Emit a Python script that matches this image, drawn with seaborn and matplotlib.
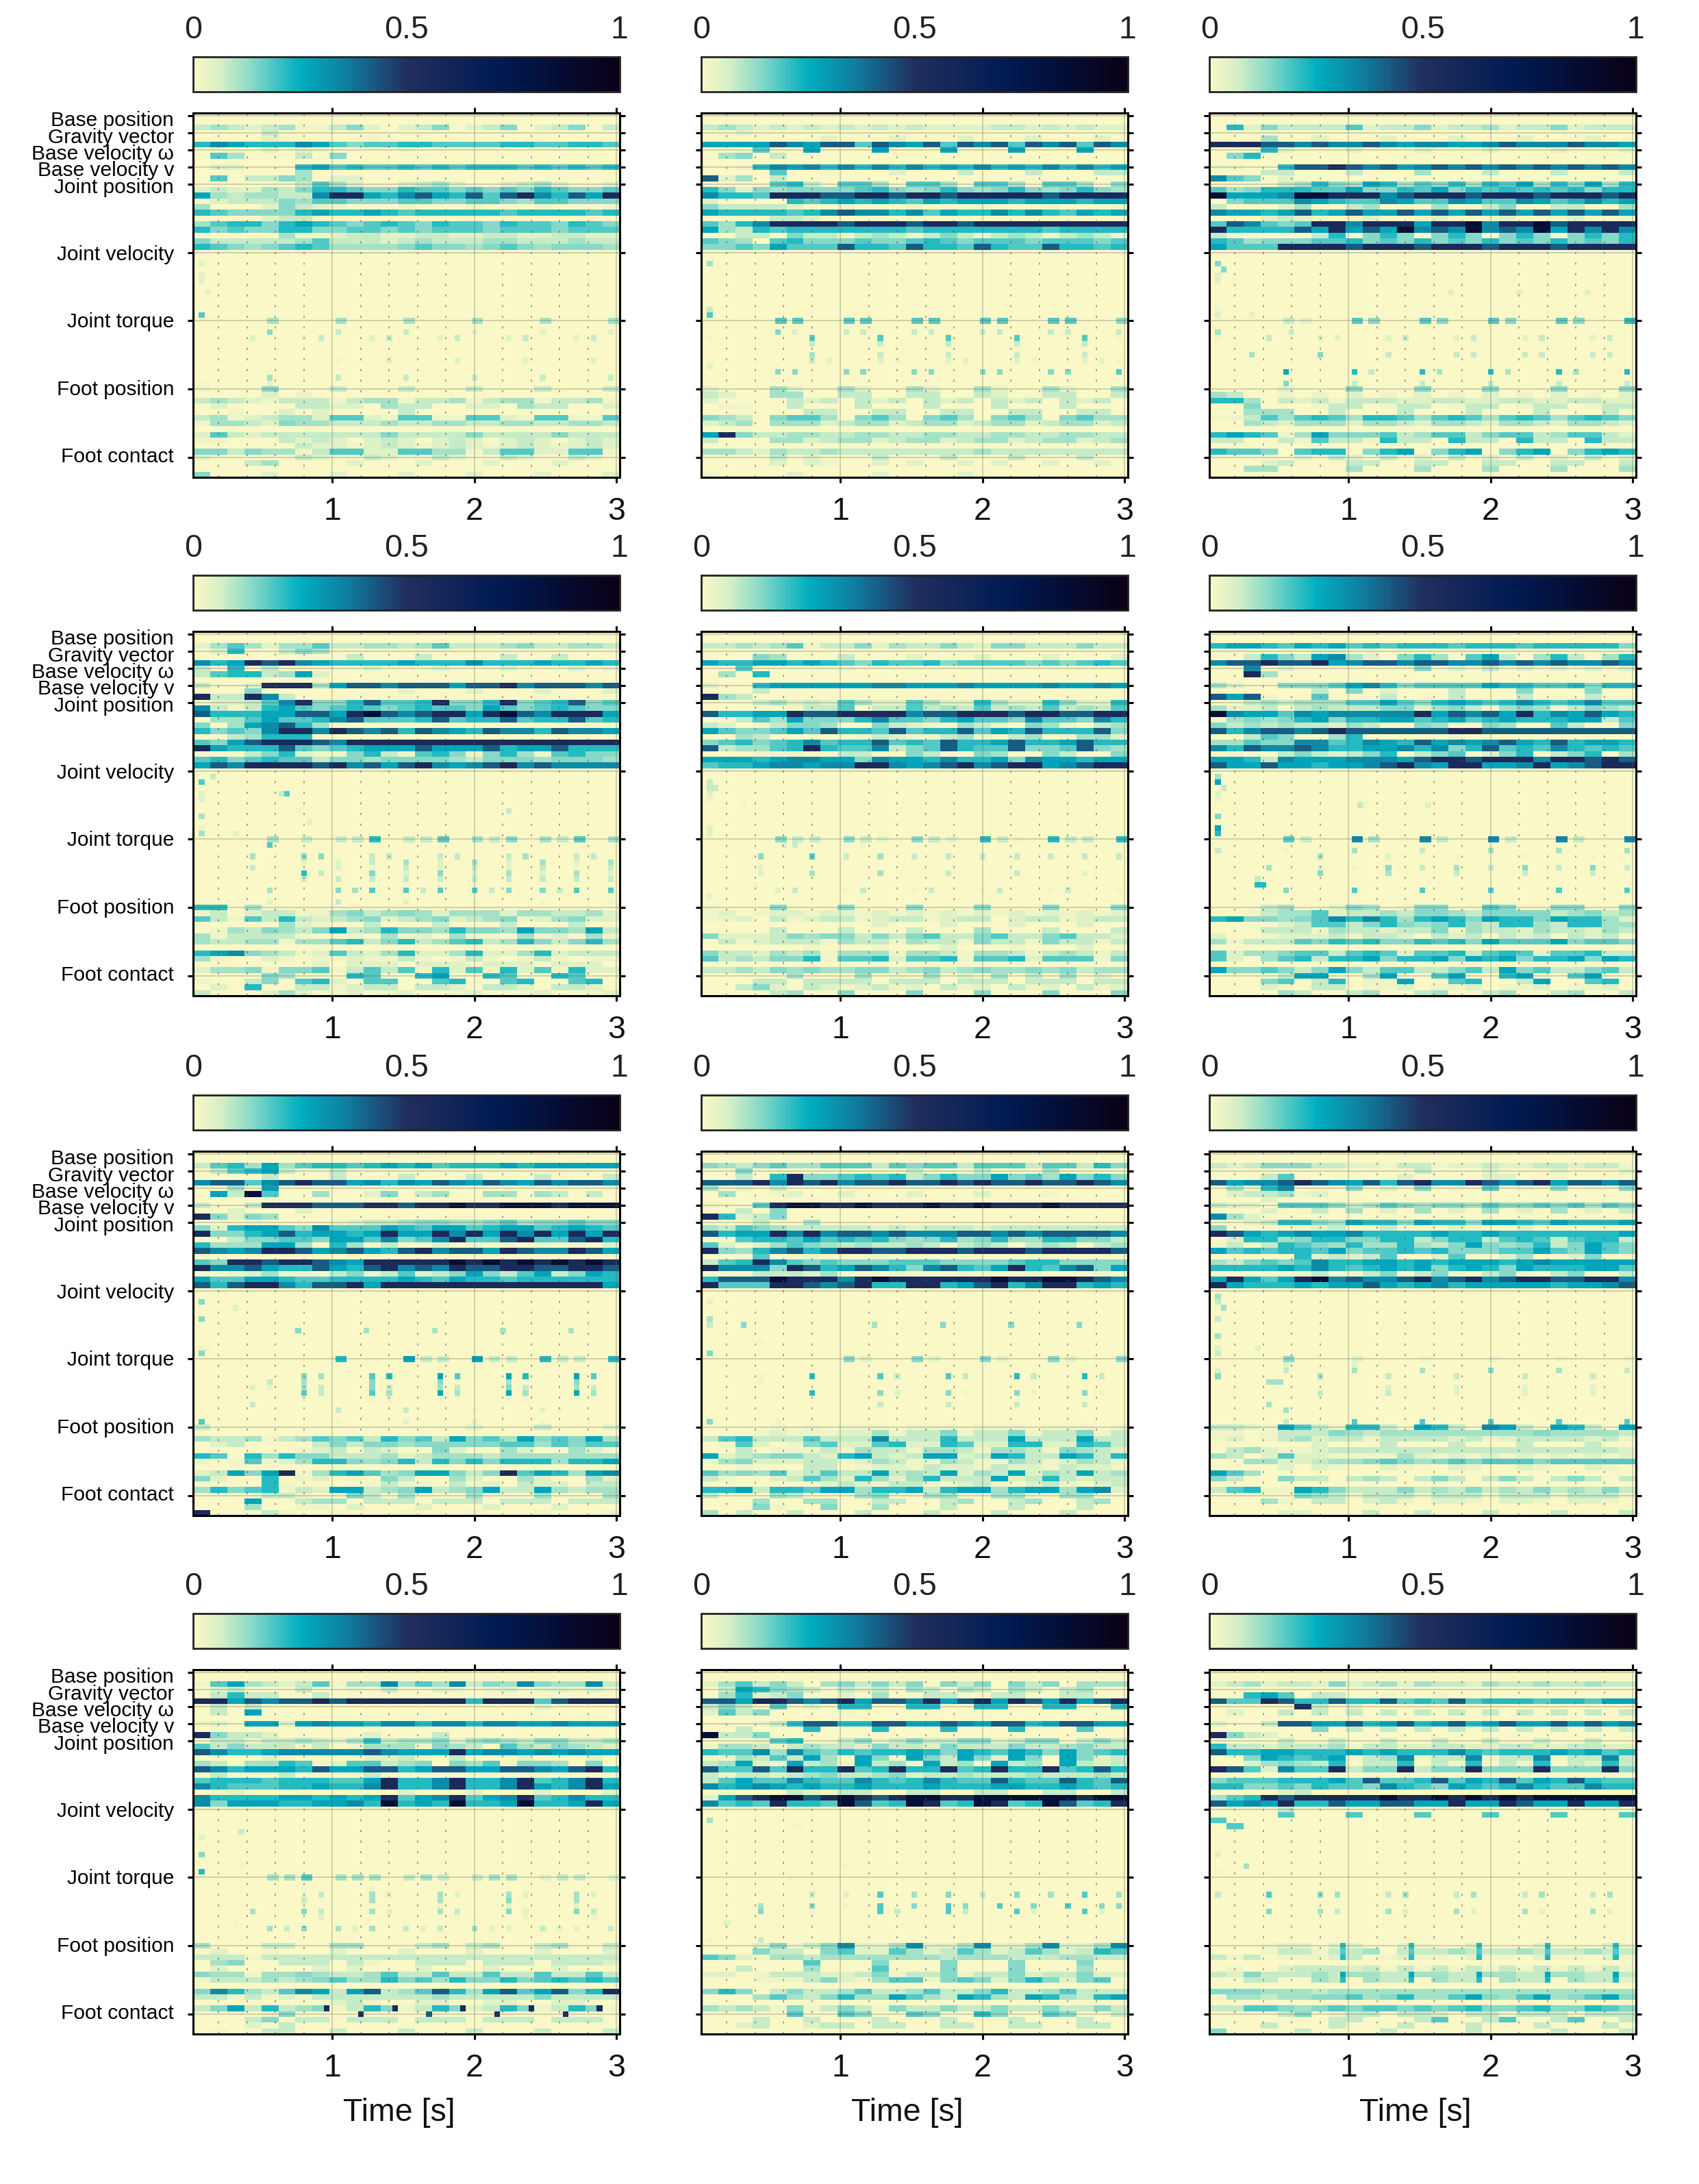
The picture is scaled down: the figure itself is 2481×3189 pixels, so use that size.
import numpy as np
import pandas as pd
import seaborn as sns
import matplotlib.pyplot as plt
from matplotlib.colors import LinearSegmentedColormap
from matplotlib.ticker import FixedLocator
from matplotlib.transforms import ScaledTranslation

# values: each text row has 25 bins of 3 steps, 0-c = level
levels = [0, .02, .05, .08, .11, .14, .18, .22, .27, .33, .42, .55, .85]
row_labels = ["Base position", "Gravity vector", "Base velocity ω", "Base velocity v", "Joint position",
              "Joint velocity", "Joint torque", "Foot position", "Foot contact"]
label_shift = [7, 7, 6, 5, 5, 3, 2, 1, -1]
row_ticks = [0, 3, 6, 9, 12, 24, 36, 48, 60]
time_labels = ["1", "2", "3"]
time_ticks = [24, 49, 74]
cbar_ticks = [0, 0.5, 1]
cbar_labels = ["0", "0.5", "1"]
n_rows = 64
n_steps = 75

p1 = {2: "3432 3411 3520 2350 2350 2350 3", 3: "0000 3000 0000", 4: "0000 2100 0010", 5: "7987 7798 6566 7766 6677 6677 6",
      6: "0000 2021 0000 1000", 7: "0640 0030 5000", 9: "0220 0078 6766 7676 7776 7676 7", 10: "0000 0040",
      11: "0603 3540 2200", 12: "0000 0036 4200 2342 0023 4200 2", 13: "2322 4357 7655 7665 6565 7655 6",
      14: "8434 4339 bb87 9a87 a6ab 97a8 b", 15: "0233 3546 6555 6655 6654 6655 5", 16: "4000 2532 1000 1000 1000 1000 1",
      17: "7655 5578 7787 6777 7767 7776 7", 18: "0000 2330", 19: "4677 5787 6567 6576 6576 6576 5",
      20: "7565 5775 5665 6566 6566 6566 6", 21: "0000 0411 2332 2332 2332 2332 2", 22: "5333 3346 3332 3433 3443 3343 3",
      23: "7654 5676 4444 5655 4565 4555 4",
      36: "0000 4000 4000 4000 4000 4000 4", 38: "0000 5000 3000 3000 2000 2000 2", 39: "0002 0013 0023 0023 0023 0023 0",
      43: "0000 0000 1002 0002 0002 0002 0", 46: "0000 4000 3000 3000 3000 3000 3", 47: "1000 2000",
      48: "1000 5000 3000 3000 3000 3000 3", 49: "0000 2010", 50: "3432 1333 1344 1334 1344 1334 1",
      51: "0200 0033 2204 3300 2204 3300 2", 52: "0010 0202 0000 3000", 53: "3412 3442 6621 6611 6621 6611 6",
      54: "1443 2544 3334 3344 3344 3344 3", 56: "2632 3333 3335 3333 5333 3533 3", 57: "1100 0323 2023 2023 2023 2023 2",
      58: "0000 0032 2123 2123 2123 2123 2", 59: "5535 4413 6622 6644 1366 2266 1", 60: "2000 0032 0032 0032 0032 0032 0",
      61: "0003 4000 0200 0200 0200 0200 0", 63: "5000 2000 2000 2000 2000 2000 2"}
s1 = [(26, 1, 2), (28, 1, 2), (29, 1, 2), (31, 2, 2), (35, 1, 6)]

p2 = {2: "3432 3232 3232 3222 2332 3232 2", 3: "0020", 4: "0000 0002 0002 0002 0002 0002 0", 5: "8888 a98a a6a9 8a6a 9a6a 9a6a 9",
      6: "0006 0080 0080 0080 0080 0080 0", 7: "0450 3000", 9: "0017 9897 9797 9787 9787 9797 8",
      10: "0000 6001 0002 0003 0003 0003 3", 11: "a240 3000", 12: "0000 6730 6640 6640 6640 6640 5",
      13: "7525 4555 5675 4575 4575 4575 4", 14: "9776 bbba abba bbab bbbb abbb b", 15: "2000 0767 8787 6878 8878 8878 8",
      16: "5333 3200 1000 1000 1000 1000 1", 17: "8777 7679 a997 9687 7979 7687 8", 18: "0000 3320",
      19: "6479 bbbb abbb abba bbbb bbbb b", 20: "8437 6777 7777 6777 7777 6777 7", 21: "0033 0533 1343 1353 1343 1343 1",
      22: "6540 6755 5655 6765 6665 6665 6", 23: "5565 8666 a776 a776 a766 a776 7",
      36: "0000 6600 6600 6600 6600 6600 5", 38: "0000 5200 3300 3300 3300 3300 3", 39: "1000 0060 0060 0060 0060 0060 1",
      40: "0000 0030 0030 0030 0030 0030 0", 42: "0000 0040 0030 0030 0030 0030 0", 43: "0000 0032 0021 0022 0021 0022 1",
      45: "0000 5500 5500 5500 5500 5500 6", 48: "2000 4200 4200 4200 4200 4200 4", 49: "3200 4400 3300 3300 3200 3300 3",
      50: "2000 0323 0323 0323 0323 0323 0", 51: "0110 0300 0300 0300 0300 0300 0", 52: "0000 0033 0033 0033 0033 0033 0",
      53: "5430 5664 0564 0564 0564 0564 4", 54: "2340 4442 3442 3442 3442 3442 3", 56: "8b53 3443 3443 3443 3443 3443 3",
      57: "3000 4423 4423 4423 4423 4423 4", 59: "4432 4334 3333 3333 4333 3333 3", 60: "0000 3020 0030 0030 0030 0030 0",
      61: "0000 2021 0020 2002 0200 2002 0", 63: "1000 0200 0020 0002 0000"}
s2 = [(26, 1, 4), (34, 1, 3), (35, 1, 6), (44, 1, 2)]

p3 = {2: "0725 3333 6233 5233 4233 5233 3", 4: "0004 0020 0020 0020 0020 0020 0", 5: "bbba a9a9 9a98 9988 9a99 9a99 8",
      6: "0007 2000 2000 2000 2000 2000 2", 7: "0570", 9: "1100 7aab a9a8 9a9a 9a9a 9a9a 9", 10: "0003 3000 3000 4000 3000 3000 3",
      11: "9650 2000", 12: "0000 3475 4874 6574 7684 7584 7", 13: "6457 7766 8557 6857 6767 6757 7",
      14: "c888 9ccb bb9a bbba bbba bbba b", 15: "0566 6987 6698 6698 6698 6797 8", 16: "3000 2400 3400 0400 3500 3300 4",
      17: "9887 8a78 a88a 8a8a 8a8a 8a8a 8", 18: "0002 3210 1200 1200 1200 1200 1", 19: "6a96 56bb 9bbb 8bbc 9bbc abbb b",
      20: "b777 7a8b 8a8c 9a9c 9a9c 8b9b 9", 21: "3100 0037 0575 0575 0575 0575 7", 22: "7645 5566 7565 7565 7565 7565 7",
      23: "8666 bbbb abbb abbb abbb abbb b",
      36: "0000 3200 6500 6500 6500 6500 7", 39: "1003 0022 0023 0023 0023 0023 0", 42: "0040 0050 0030 0033 0033 0033 0",
      45: "0000 8000 7300 7400 7400 7400 7", 47: "0000 5000 3000 3000 3000 3000 3", 48: "0000 2000 5000 5000 5000 5000 5",
      49: "4300 1010 2010 2010 2010 2010 2", 50: "7740 3231 3332 2332 2332 2332 2", 51: "0050 0013 3013 3013 3013 3013 3",
      52: "0044 4003 0003 0003 0003 0003 0", 53: "1136 4676 4776 4676 4676 4676 5", 54: "0043 2444 2443 2443 2443 2443 2",
      56: "7876 1485 5563 4663 5663 4663 2", 57: "3300 3163 3173 3073 3073 3073 3", 59: "7665 0677 0578 0578 0578 0578 7",
      60: "0000 0203 2030 2030 2030 2030 2", 61: "0002 3000 3300 3300 3300 3300 3", 62: "0044 0000 4000 4000 4000 4000 4"}
s3 = [(26, 1, 5), (27, 2, 5), (28, 1, 2), (29, 1, 2), (31, 42, 2), (31, 54, 2), (31, 66, 2), (34, 1, 1), (35, 1, 2), (35, 7, 2), (38, 1, 4), (38, 14, 3)]

p4 = {2: "2464 2446 3344 3463 3345 3344 3", 3: "0270 0354", 4: "0000 0000 0300 0300 0030 0300 0", 5: "978b ab98 7777 8777 9777 8778 7",
      6: "3070 3000 0020 0020 0020 0020 1", 7: "3677 3482", 9: "3002 bbb4 8aa9 aaa8 aab9 aaa9 a", 10: "0005 0000 0000 2000 2000 2000 2",
      11: "b33b 9300", 12: "0223 69b5 57a6 67b5 57b5 67a5 6", 13: "9313 7865 6765 6766 5865 6765 5", 14: "a777 88aa 8bca 9abb 8bca 9bbb 8",
      15: "0446 8667 9a66 67a6 77a6 77a6 7", 16: "5048 9a74", 17: "7565 9bb9 ba9a 7a98 7a99 7a99 8", 18: "0034 7770",
      19: "658a bbba 9bbb bbbb bbbb bbbb b", 20: "b877 7a65 6788 8a88 8a78 8a77 7", 21: "0003 5721 1573 1675 1574 1675 5",
      22: "6756 7663 5545 5554 3555 4555 4", 23: "8a9b bbba b9a8 ab98 9ab9 a999 9",
      36: "0000 4030 3370 3360 4350 4360 4", 37: "0000 6000", 39: "0004 0055 0033 0033 0034 0033 0", 40: "0000 0020 2030 4020 4020 4020 4",
      41: "0003 0000 2010 3020 3020 3010 3", 42: "0000 0073 0050 2050 2040 2040 2", 43: "0000 0030 3030 3030 3030 3030 3",
      45: "0000 4000 5460 6360 6350 5360 6", 47: "0000 2000 3000 2000 1000 1000 1", 48: "7704 0000", 49: "1302 3311 4534 5424 4424 4334 2",
      50: "6316 3732 3452 3452 3451 2452 2", 51: "0000 0421 0030 0030 0030 0030 0", 52: "0143 5435 8347 5547 5548 5548 3",
      53: "4133 3310 1104 1204 1104 1204 1", 54: "4334 4144 6735 7346 7347 5357 4", 56: "7895 4312 6324 7224 7224 7233 3",
      57: "4100 2101 1211 3101 3101 3101 1", 58: "0000 0002 0222 0222 0222 0222 0", 59: "2445 1556 1363 6172 6172 6172 2",
      60: "0000 5400 0760 0780 0760 0760 0", 61: "1003 5067 2066 0067 0067 0067 0", 62: "0207 0033 1233 0332 0332 0332 0", 63: "3000 2420 1201 2001 2001 2001 2"}
s4 = [(25, 3, 3), (26, 1, 6), (28, 1, 2), (28, 15, 3), (28, 16, 6), (29, 1, 2), (31, 18, 1), (31, 55, 3), (32, 1, 4), (33, 20, 2), (34, 1, 1), (35, 1, 4), (35, 7, 2)]

p5 = {2: "3343 4613 3524 3353 2553 3353 3", 4: "0005 4000 3000 2000 2000 2000 2", 5: "8778 8787 6576 6756 6665 6567 6", 6: "0060 0000 1000",
      7: "0407", 9: "2007 8888 8899 8889 8888 9889 8", 10: "0003", 11: "b430", 12: "0003 4232 6422 6422 7422 7522 7",
      13: "0000 0133 6033 6343 6343 6343 6", 14: "a778 8baa bbbb 9aab bbab baab b", 15: "0036 4855 5796 6578 6659 6659 7",
      16: "3201 3554 0053 2104 3105 4103 4", 17: "8655 686a 776a 677a 687a 777a 5", 18: "0043 0000 0132 1134 1134 0144 2",
      19: "5675 6796 77a6 76a7 78a7 78a7 7", 20: "a344 67b7 6693 56a7 66a5 56a5 4", 21: "0001 1100 3300 5300 5400 5300 5",
      22: "8887 8998 8598 8797 7859 8878 8", 23: "6778 9989 9bb9 89ab 9abb 89ab b",
      36: "0000 5330 5320 5320 7310 7330 7", 39: "0005 0060 3040 3030 3030 3030 3", 41: "0002", 42: "0002 0040 0040 0030 0030 0020 0",
      45: "0000 2300 1300 1300 1300 1300 1", 48: "1000 5000 5000 5000 5000 5000 5", 49: "1201 2212 2121 2121 2121 2121 2",
      50: "1120 3123 3123 3123 3023 3123 3", 51: "0000 0000 0020 0020 0020 0020 0", 52: "0000 3000 3000 3000 4000 3000 3",
      53: "5222 3545 5353 5633 5633 5633 2", 54: "0312 3331 4331 4331 5331 5331 3", 55: "0000 0010 0010 0020 0010 0020 0",
      56: "5332 4341 4441 4431 4431 3431 3", 57: "6343 5571 6672 6671 6672 6661 5", 59: "3343 5454 4553 4534 5445 4534 4",
      60: "0000 0400 0401 0402 0403 0402 0", 61: "0003 3033 3303 3303 3303 3303 3", 62: "0035 2032 1231 2031 2031 2031 2", 63: "0000 3400 5000 5000 5000 5000 5"}
s5 = [(26, 1, 3), (27, 1, 3), (27, 2, 3), (28, 1, 2), (29, 1, 1), (30, 7, 1), (34, 1, 2), (35, 1, 2), (37, 14, 2), (37, 16, 3), (37, 28, 1), (44, 9, 1), (46, 1, 2)]

p6 = {2: "7887 6878 6767 7767 7767 7777 5", 3: "0000 0022", 4: "0037 5389 4205 7406 8304 7304 7", 5: "9aab aab8 9aa9 aa99 a9a9 a99a 9",
      6: "0090 2000 0000 5020 3020 2020 2", 7: "00b4", 9: "4200 5556 8975 6666 8776 6757 7", 10: "0000 0030 5020 0030 0050 0050 0",
      11: "a8a1 0060 0030 0030 0030 0030 0", 12: "0034 3444 6686 5787 6797 6796 6", 13: "4223 0343 3355 2453 1454 1354 3",
      14: "c988 6989 9999 b8a9 a8b7 98a8 7", 15: "1454 5785 7788 6786 7877 7883 6", 16: "5343 4332 4300 5400 5400 6300 5",
      17: "a79a a9ab aaaa aabb aaaa aaaa a", 18: "0036 5004 7000 0010", 19: "4465 5996 7987 a898 9a87 a788 7",
      20: "97a9 9a97 7889 7957 a676 9767 6", 21: "0100 3532 3570 3560 2570 3570 4", 22: "8873 9888 9998 abba bbb9 bbab a",
      23: "a88a 8878 89ab 98bb 889b 89ab b",
      36: "0000 6300 9400 9300 9300 9300 9", 38: "3000 1000 4000 3000 4000 4000 4", 39: "0000 0040 0020 0010 0010 0010 0",
      41: "0004 0020 1050 3040 3050 3050 3", 42: "0000 0050 0040 0030 0030 0030 0", 45: "0000 5000 6000 6000 6000 6000 6",
      48: "0003 4002 5401 5500 6500 5500 5", 49: "0013 4462 3343 5543 5555 3453 4", 50: "7855 4569 7974 7875 8775 8774 2",
      51: "0000 2366 3575 4574 3774 3774 4", 52: "0003 3314 3323 3514 3324 3324 3", 53: "2001 2223 1332 0323 0323 0323 0",
      54: "4133 3657 6755 7675 8666 8566 5", 56: "6244 5663 6762 6673 6762 6673 3", 57: "6204 6737 7857 7858 7857 7858 7",
      59: "8556 5358 5366 3356 3856 3356 3", 60: "0000 3880 0480 0680 0780 0680 0", 61: "0005 6037 0118 0067 0038 0067 0",
      62: "0002 1033 0112 0112 0112 0112 0", 63: "0000 4300 3400 3400 3400 3400 3"}
s6 = [(25, 1, 4), (26, 1, 8), (27, 2, 3), (28, 1, 2), (29, 1, 1), (30, 26, 3), (30, 27, 1), (30, 38, 2), (32, 1, 5), (34, 1, 8), (35, 1, 7),
      (43, 8, 3), (44, 8, 7), (44, 9, 7)]

p7 = {2: "3674 8467 7678 7867 7787 8888 8", 3: "0367 8300 3000", 4: "0000 3000 3000 3000 3000 3000 3", 5: "9aa6 9aba a897 98a9 8a98 a9aa 9",
      6: "0040 8000", 7: "083c 6004 0025 0340 0440 4303 0", 9: "3003 bbba aabb abbc bbcc cbcc c", 10: "0020 0020",
      11: "b525 4000 0000 0000", 12: "0001 0000 1233 4554 4564 5565 5", 13: "5278 8659 6668 7688 6788 6787 6",
      14: "b557 8a78 878b 88b9 b8b9 b8b8 b", 15: "0035 5665 8869 569b 66ab 66ab 7", 16: "7444 8840 7403 0020 1010 1010 2",
      17: "a989 bba8 9a87 ab9a a8ba 99ba 8", 19: "65bb abba 98bb bbbc bcbc bcbc b", 20: "b99a 877a 87ab 9a9b aabb aabb a",
      21: "0012 4110 3513 6235 8536 8358 7", 22: "8668 8766 7777 8768 7767 7777 7", 23: "a7ab b97a ab8b bbbb bbbb bbbb 8",
      36: "0000 0000 7000 8330 8330 7330 7", 39: "0000 0054 0067 0086 0087 0086 0", 40: "0000 3040 0050 0050 0040 0050 0",
      41: "0002 1043 0053 0043 0053 0043 0", 42: "0000 0063 0064 0084 0084 0084 0", 43: "0000 0010 0011 0011 0011 0011 0",
      44: "0003", 45: "0000 0000 3000 3000 1000 2100 0", 47: "6000 0000 1000 2000 2000 1000 0", 48: "3000 0000 0000 0000 2000 3000 2",
      50: "4334 1346 5637 5638 5648 5658 4", 51: "0230 0003 5355 4555 5566 4656 6", 52: "0000 0012 3032 0052 0042 0042 0",
      53: "7607 4755 3334 2344 4344 4444 4", 54: "1016 1247 7545 7375 7577 7477 8", 56: "2385 8b14 7864 5885 35b6 8748 9",
      57: "5200 7012 0105 3004 2004 2004 2", 58: "0000 7100 0013 1103 1203 2203 3", 59: "4756 7132 8834 5834 5833 8434 4",
      60: "0000 3310 0530 4000 4000 4000 4", 61: "0008 0034 4033 3033 3033 3033 3", 62: "0004 0011 0200 0200 0200 0200 0", 63: "b000 3100 1000 1000 1000 1000 1"}
s7 = [(26, 1, 5), (27, 7, 2), (29, 1, 5), (31, 18, 5), (31, 30, 4), (31, 42, 4), (31, 54, 4), (31, 66, 4), (34, 1, 1), (34, 2, 1), (35, 1, 5)]

p8 = {2: "5435 6446 6636 5663 6663 6637 5", 3: "0050 0000 0000 3000 3000 4000 0", 4: "0030 7b55 6767 3575 5856 4857 5", 5: "aaab 9bab 9aab aaba baab aaba 9",
      6: "4020 3000", 7: "0400 1200 2000 2000 2000 1000", 9: "1006 bccb bcbb bcbb cbbb cbbb b", 10: "0030 5000", 11: "b723 5000",
      12: "0003 0040", 13: "4365 4333 3323 2333 2333 3333 3", 14: "a788 b9b9 aa9a 999a a9a9 aaaa 9", 15: "0067 7686 7675 4574 5744 7755 3",
      16: "6202 4654 3433 4303 4303 4303 4", 17: "b547 9a79 bbaa bbba bbba bbbb a", 18: "0006 0010 0010", 19: "367b 9656 5556 6655 5567 7555 5",
      20: "b999 5ba7 8a97 59a7 68b7 69a5 8", 21: "0003 3324 0001 0001 0001 0001 0", 22: "7aaa cbbb 9bcb bbbb bcbb ccba 9", 23: "b666 bba9 ab77 bb78 ab79 bb78 7",
      36: "0000 0000 5200 5200 5200 5200 5", 39: "0001 0070 0063 0063 0073 0073 0", 40: "0001", 42: "0000 0070 0052 0051 0051 0051 0",
      44: "0000 0000 0030 0030 0030 0030 0", 47: "5000 1000", 48: "0000 1010 1110 1110 1110 1110 1", 49: "0001 2111 2241 3351 3351 3351 3",
      50: "3673 3363 3393 3373 3383 3383 3", 51: "0162 0156 2267 2276 2277 2276 3", 52: "0030 1113 1433 1443 1443 1543 2",
      53: "8234 5532 7832 3882 3873 3873 7", 54: "1452 2233 1243 1143 1143 1243 1", 55: "0010 0033 0122 1322 1322 1322 1",
      56: "6454 6236 3383 4382 4382 4383 4", 57: "3100 2364 2742 4733 3823 7323 3", 58: "0000 0002 3213 3102 3102 3102 3",
      59: "7783 7768 8477 8378 8478 8489 2", 60: "3000 4300 0450 0440 0440 0440 0", 61: "0004 0044 0033 0034 0034 0034 0",
      62: "0005 1005 0040 0030 0030 0030 0", 63: "4030 0300 0300 0300 0300 0300 0"}
s8 = [(26, 1, 2), (29, 1, 4), (30, 1, 3), (30, 7, 5), (30, 30, 4), (30, 42, 5), (30, 54, 5), (30, 66, 5), (33, 10, 1), (35, 1, 5)]

p9 = {2: "3235 5533 2213 3122 3223 3233 1", 3: "0000 0000 0000 3000 2000 2000 2", 4: "0003 6000 0002 0000 2200", 5: "a899 aba9 8a7a b99b a9ab 8aa9 a",
      6: "0407 9000 5020 5010 6010 5010 5", 7: "0233 4120", 8: "0002", 9: "3220 6665 3465 4554 6556 5646 5", 10: "0002 0030 4020 4020 4020 4020 3",
      11: "9420", 12: "0023 7754 8775 8775 8876 8777 8", 13: "5000 0123 0130 0021 0020", 14: "ba87 8988 9777 7877 8777 7777 8",
      15: "0277 4577 5577 3577 3676 3677 3", 16: "1303 7654 7447 4358 5457 3586 5", 17: "8676 7768 5667 6755 5668 6586 5",
      18: "0000 0723 2360 0260 0240 0250 0", 19: "4356 5697 7887 8788 8789 8888 8", 20: "7777 8797 6787 8578 7587 7788 6",
      21: "0000 0130 1350 3510 3510 3510 3", 22: "8b86 8bc9 a99a b9ab 9abb aabb 9", 23: "b877 7878 8a87 8978 8888 7889 a",
      36: "0000 5000 2000 1000 1000 1000 1", 37: "0000 2000 2000", 38: "2000 3000 4000 4000 5000 4000 3", 39: "5000 0040 0030 0030 0030 0030 0",
      41: "0000 0000 0020 0020 0020 0020 0", 42: "0000 0030 0030 0020 0020 0020 0", 44: "0004", 45: "0000 4000",
      47: "0000 3000 6000 6000 6000 6000 6", 48: "3321 8631 7730 8730 9830 8730 8", 49: "1101 3335 4344 4444 4445 4444 3",
      50: "1201 3423 3133 3323 1233 3323 1", 51: "0000 0020 0030 0030 0030 0030 0", 52: "0342 1123 3333 3333 3333 3333 2",
      53: "4302 6221 1114 2121 2121 2121 2", 54: "0044 2234 4565 4565 6665 6666 6", 55: "0000 2021 0021 0021 0021 0021 0",
      56: "8640", 57: "5300 5330 3430 3530 3530 3530 3", 59: "3671 1875 3335 3435 3435 3435 3", 60: "0000 0543 1333 1333 1333 1333 1",
      61: "0004 1033 0231 0221 0221 0221 0", 63: "0000 2200 0300 3000 3000 3000 3"}
s9 = [(25, 1, 4), (26, 1, 3), (27, 2, 4), (29, 1, 3), (32, 1, 4), (34, 1, 2), (34, 8, 2), (35, 1, 3), (40, 10, 4), (40, 11, 4), (40, 12, 4)]

p10 = {2: "1684 3236 1449 4649 3549 5449 3", 3: "0230 0030 0103 0021 0120 1212 1", 4: "0373 3003", 5: "bb8a 9aab abbb bbbb 7bbb 6abb b", 6: "0303 0000 0000 0000 0000 2000",
       7: "0308", 9: "1208 8289 8879 9799 7998 8988 8", 11: "b533 2000 0020 0030", 12: "0331 3343 2473 4452 4543 5533 4", 13: "6353 3313 0144 4154 3064 3543 2",
       14: "a977 8999 99a9 888b 8998 9898 8", 15: "0000 2100 0022 3103 0002 0002 0", 16: "4304 4761 2663 4505 4615 5405 0", 17: "a978 887a 88aa 78aa 88aa 98ab 7",
       18: "0300 0300 0030", 19: "6777 6777 668b 779b 779b 679b 7", 20: "9766 6778 779b 779b 779b 879b 8", 21: "0120 0000 0000 2000 2000 2000 2",
       22: "9777 7887 878b 689b 689b 6797 7", 23: "9588 8778 897c 787c 778c 778b 8",
       36: "0000 4460 4440 3430 3440 2330 2", 38: "0000 0010 0010", 39: "0000 0013 0042 0042 0042 0042 0", 40: "0000 0030 0040 0040 0050 0040 0",
       41: "0000 0000 0000 0010 0020 0020 0", 42: "0004 0053 0042 0043 0052 0053 0", 43: "0000 0002 0000 0001 0001 0001 0", 44: "0010",
       45: "0000 4350 4240 3230 4220 3220 3", 48: "4000 3300 4400 0340 3400 3400 3", 49: "0200 1000 2000 2000 2000 2000 2", 50: "3331 3333 3333 3333 3333 3333 3",
       51: "0450 0333 0310 0333 0333 0333 2", 52: "0200 0002 0200 0200 0200 0200 0", 53: "5441 4454 3346 3363 3633 6336 3", 54: "1333 4345 6447 5647 5575 6767 6",
       56: "5974 3698 38a3 46a7 48a6 8a57 b", 57: "3313 1213 3333 3343 3333 5333 3", 58: "0000 0000 2310 0220 0220 0220 0", 59: "3583 7345 1375 1375 2375 1375 1",
       60: "0000 1500", 61: "0003 5033 0333 0333 0333 0333 0", 62: "0002 0300", 63: "0100 3300 3000 3000 3000 3000 3"}
s10 = [(28, 8, 3), (29, 1, 2), (32, 1, 5), (34, 8, 1), (35, 1, 7), (60, 29, 11), (60, 41, 10), (60, 53, 11), (60, 65, 11),
       (59, 23, 11), (59, 35, 11), (59, 47, 11), (59, 59, 11), (59, 71, 11)]

p11 = {2: "2463 5304 5353 5053 5053 5044 4", 3: "0387 5430 3230 4304 3043 0340 0", 4: "0472 3500 2040 0330 0330 0330 0", 5: "aa8b ba9a b8aa 9b8a b8ba 8b8a b",
       6: "3530 6020 7700 7700 7700 7700 7", 7: "2635 0000 1000", 9: "0001 37aa 77aa 88a9 8aa7 8aa8 8", 10: "0030 0070 0070 0070 0070 0060 0",
       11: "c335", 12: "0001 6700 3513 5335 5235 5035 3", 13: "1443 1343 3253 3253 3353 3453 3", 14: "7669 4965 7677 8758 7687 5856 7",
       15: "1143 6384 0851 8538 5285 0852 3", 16: "3482 1834 1834 0834 0834 0832 3", 17: "a66a 6b77 b67b 77b6 7b77 b67a 7", 18: "3133 2345 3345 2334 3334 3334 3",
       19: "3686 6976 6976 7976 6a76 6a76 a", 20: "9789 8787 7877 7877 7887 7876 7", 21: "0100 0321 3300 3300 3300 3300 3", 22: "28ab ccab cbab ccbb cccc ccbc c",
       23: "9676 b776 ca67 cb67 cb67 ca67 b",
       39: "0000 0030 2060 4050 3050 4060 4", 41: "0004 0050 1060 5065 0605 0605 5", 42: "0005 0010 0063 0063 0062 0062 0", 44: "0200",
       47: "1003 0000", 48: "0002 5135 9224 9224 9224 9224 9", 49: "0005 3305 6226 4236 4236 4237 6", 50: "6521 4434 4444 4434 4433 3443 3", 51: "0000 0060 0050 0050 0050 0050 0",
       52: "0030 0040 0060 0050 0050 0040 0", 53: "2201 3332 2351 3351 3352 3352 2", 54: "0001 1135 2146 6156 5257 5256 0", 56: "5750 3533 4633 4633 5733 4633 3",
       57: "0004 6435 7448 6438 7438 7437 8", 59: "4343 1513 5315 3353 3533 5335 3", 60: "0000 0600 6500 6500 7500 6500 3", 61: "0003 0030 0030 0030 0030 0030 0",
       62: "0023 0023 3033 0033 0033 0033 0"}
s11 = [(26, 1, 4), (27, 16, 1), (27, 17, 1), (34, 25, 1), (36, 15, 1)]

p12 = {2: "2342 3325 2342 4332 4334 3343 3", 4: "0078 6033 0010 0100", 5: "a66b a77a 77a6 76a6 7776 7768 8", 6: "0000 0b30 2000",
       7: "0200 3030 3030 3030 3030 3030 3", 9: "2003 aa88 a78a 78a7 8a88 a8a8 9", 10: "0000 0050 3030 3030 3030 3030 3", 11: "b532",
       12: "0000 3003 0030 0300 3003 0030 0", 13: "7332 3334 1332 2332 2332 2332 2", 14: "a778 8777 8787 7797 6777 8786 7",
       15: "0058 7678 1349 1339 1339 1339 3", 16: "0024 5437 0337 0317 0317 0327 3", 17: "ba62 966b 355b 355b 555b 555b 5",
       19: "5666 7778 6a66 7a68 7a68 7a76 6", 20: "7755 6576 6597 6587 6797 6697 7", 21: "0000 2300", 22: "467b abbb bbcb bcbc bcbc cccc c",
       23: "a898 b77a 88aa 88b8 8ba8 8b88 b", 24: "0000 3000",
       25: "0000 6000 6000 6000 6000 6000 6", 26: "6000", 27: "0600", 39: "3006 0054 0034 0034 0034 0034 0", 42: "0005 0043 0042 0042 0042 0042 0",
       48: "0001 2202 2002 1002 0002 0002 1", 49: "0001 3313 3403 3343 3343 3343 3", 50: "3130 1112 3012 1102 1102 1102 1", 52: "0100 2333 2313 1313 1313 1313 1",
       53: "3253 3343 4433 4433 4433 4433 3", 54: "0033 0043 0433 0433 0433 0433 2", 56: "5554 4434 4444 4444 4444 4444 4", 57: "1443 4455 6457 4468 5468 4568 5",
       59: "3366 5456 5665 6567 5567 5576 5", 60: "0000 3501 3303 3203 3033 3033 3", 61: "0000 0003 3000 3600 3600 3600 3", 62: "0003 0003 0003 0003 0003 0003 0",
       63: "5000 0300 0030 0003 0000 3000 3"}
s12 = [(32, 1, 2), (34, 6, 4), (35, 1, 1),
       (48, 23, 7), (48, 35, 7), (48, 47, 7), (48, 59, 7), (48, 71, 7), (49, 23, 6), (49, 35, 6), (49, 47, 6), (49, 59, 6), (49, 71, 6),
       (50, 23, 7), (50, 35, 7), (50, 47, 7), (50, 59, 7), (50, 71, 7), (53, 23, 8), (53, 35, 8), (53, 47, 8), (53, 59, 8), (53, 71, 8),
       (54, 23, 7), (54, 35, 7), (54, 47, 7), (54, 59, 7), (54, 71, 7)]

panels = [p1, p2, p3, p4, p5, p6, p7, p8, p9, p10, p11, p12]
spots = [s1, s2, s3, s4, s5, s6, s7, s8, s9, s10, s11, s12]

lefts = [282, 1024, 1766]
tops = [165, 922, 1681, 2438]
W, H = 2481, 3189

cmap = LinearSegmentedColormap.from_list("policy", [(0, "#faf8c6"), (.06, "#d8f0c6"), (.13, "#8fdcc8"), (.25, "#00aec0"),
                                                      (.36, "#107d9f"), (.5, "#212f5e"), (.72, "#001a52"), (1, "#0a0016")])


def make_frame(rows, extra):
    a = np.zeros((n_rows, n_steps))
    for r, txt in rows.items():
        txt = txt.replace(" ", "").ljust(25, "0")[:25]
        vals = np.array([levels[int(c, 16)] for c in txt])
        if 36 <= r <= 47:
            # the sparse rows are single cells in the picture, not whole bins
            a[r, 1::3] = vals
            if r == 36:
                a[r, 2::3] = vals
        else:
            a[r] = np.repeat(vals, 3)
    for r, c, v in extra:
        a[r, c] = levels[v]
    return pd.DataFrame(a)


sns.set_theme(style="white")
plt.rcParams["font.family"] = ["Liberation Sans", "DejaVu Sans"]
plt.rcParams["axes.unicode_minus"] = False
fig = plt.figure(figsize=(W / 100, H / 100), dpi=100)

for i in range(12):
    r, c = divmod(i, 3)
    x0, y0 = lefts[c], tops[r]
    ax = fig.add_axes([x0 / W, 1 - (y0 + 532) / H, 622.5 / W, 532 / H])
    cax = fig.add_axes([x0 / W, 1 - (y0 - 31) / H, 622.5 / W, 51 / H])
    sns.heatmap(make_frame(panels[i], spots[i]), ax=ax, cbar_ax=cax, cmap=cmap, vmin=0, vmax=1,
                cbar_kws={"orientation": "horizontal"}, rasterized=True)
    cax.set_xticks(cbar_ticks)
    cax.set_xticklabels(cbar_labels, fontsize=33.5, color="#222222")
    cax.xaxis.set_ticks_position("top")
    cax.tick_params(axis="x", length=0, pad=12)
    cb = ax.collections[0].colorbar
    cb.outline.set_visible(True)
    cb.outline.set_edgecolor("#222222")
    cb.outline.set_linewidth(2)

    ax.set_xticks(np.array(time_ticks) + 0.5)
    ax.set_xticklabels(time_labels, rotation=0, fontsize=33.5, color="#111111")
    ax.set_yticks(np.array(row_ticks) + 0.5)
    if c == 0:
        ax.set_yticklabels(row_labels, rotation=0, fontsize=21.5, color="black")
    else:
        ax.set_yticklabels([])
    ax.xaxis.set_minor_locator(FixedLocator(np.arange(5, 75, 5) - 0.5))
    ax.tick_params(axis="both", which="major", length=6, width=2.2, color="black", top=True, right=True, bottom=True, left=True)
    ax.tick_params(axis="x", which="major", pad=14, labeltop=False)
    ax.tick_params(axis="y", which="major", pad=14)
    ax.tick_params(axis="x", which="minor", length=0)
    # tick_params resets the label transforms, so the shift comes after it
    if c == 0:
        for tl, dy in zip(ax.get_yticklabels(), label_shift):
            tl.set_transform(tl.get_transform() + ScaledTranslation(0, -dy / 100, fig.dpi_scale_trans))
    ax.set_axisbelow(False)
    ax.grid(True, which="major", color="#555555", alpha=0.3, linewidth=1.2)
    ax.grid(True, which="minor", axis="x", color="#555555", alpha=0.6, linewidth=1.3, linestyle=(0, (1.6, 7)))
    for sp in ax.spines.values():
        sp.set_visible(True)
        sp.set_edgecolor("black")
        sp.set_linewidth(2.2)
    ax.set_xlabel("Time [s]" if r == 3 else "", fontsize=33.5, color="#111111", labelpad=15)
    ax.xaxis.label.set_x(0.484)
    ax.set_ylabel("")

fig.savefig("out.png", dpi=100)
